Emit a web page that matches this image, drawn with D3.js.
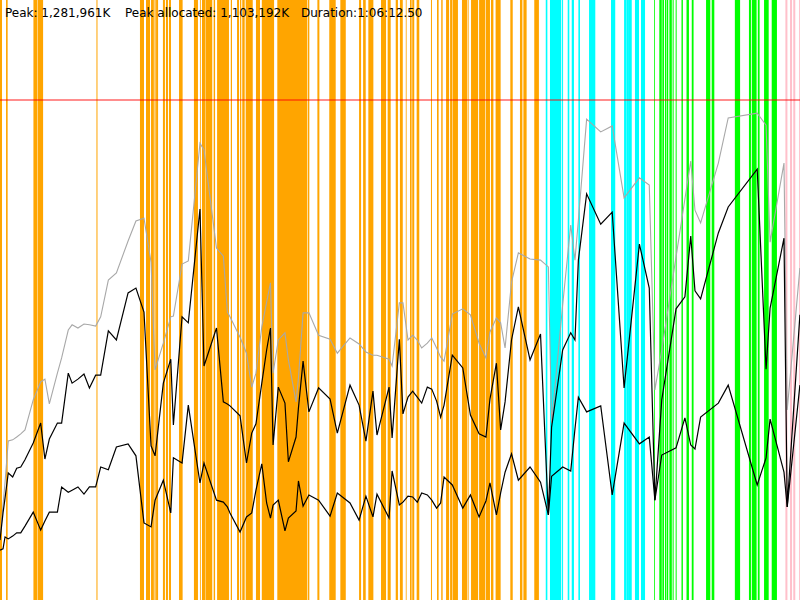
<!DOCTYPE html>
<html>
<head>
<meta charset="utf-8">
<script src="https://cdn.jsdelivr.net/npm/d3@7"></script>
<style>
  body { margin: 0; background: #fff; }
  svg { display: block; }
</style>
</head>
<body>
<svg width="800" height="600"></svg>
<script>
// summary figures (K = kilobytes, duration in seconds)
var peakK = 1281961,
    peakAllocK = 1103192,
    durationSec = 3972.5;

// sample times (s)
var times = [0, 15, 25, 41, 63, 83, 103, 124, 165, 202, 223, 245, 285, 306, 339, 358, 387, 417, 444, 475,
  500, 538, 578, 636, 675, 715, 750, 770, 811, 848, 861, 904, 935, 993, 1013, 1075, 1109, 1129, 1142, 1192,
  1224, 1250, 1271, 1300, 1324, 1343, 1356, 1382, 1415, 1432, 1470, 1482, 1505, 1534, 1582, 1639, 1675, 1738, 1783, 1817,
  1852, 1872, 1932, 1947, 1983, 2001, 2026, 2049, 2072, 2094, 2122, 2144, 2168, 2188, 2205, 2246, 2298, 2336, 2379, 2413,
  2433, 2465, 2486, 2508, 2540, 2574, 2632, 2684, 2723, 2739, 2794, 2834, 2855, 2872, 2913, 2983, 3040, 3099, 3175, 3224,
  3252, 3286, 3357, 3401, 3430, 3451, 3479, 3567, 3616, 3760, 3804, 3824, 3893, 3909, 3972];

// heap size (MB) - grey line
var heapMB = [150, 238, 295, 398, 401, 408, 416, 426, 501, 546, 553, 491, 568, 606, 676, 689, 681, 691, 689, 686,
  709, 801, 819, 899, 949, 956, 846, 576, 643, 709, 711, 841, 849, 1144, 1127, 881, 861, 721, 709, 658,
  618, 533, 568, 684, 746, 794, 568, 651, 669, 601, 496, 556, 719, 719, 663, 653, 618, 656, 641, 621,
  613, 613, 603, 586, 744, 744, 651, 663, 651, 631, 643, 656, 631, 608, 598, 716, 729, 714, 643, 606,
  671, 706, 694, 631, 796, 869, 854, 851, 834, 443, 739, 939, 851, 951, 1204, 1172, 1187, 1007, 1057, 1039,
  526, 626, 859, 1004, 1099, 976, 944, 1094, 1207, 1219, 1189, 896, 1094, 476, 831];

// allocated (MB) - upper black line
var allocMB = [150, 218, 255, 318, 308, 330, 333, 351, 393, 443, 353, 403, 443, 443, 568, 543, 553, 566, 531, 563,
  563, 674, 651, 769, 781, 721, 386, 361, 543, 603, 438, 709, 694, 979, 586, 681, 496, 491, 486, 461,
  343, 418, 441, 543, 626, 681, 388, 533, 493, 346, 408, 481, 598, 471, 531, 503, 418, 538, 488, 398,
  523, 413, 533, 406, 653, 466, 508, 523, 508, 493, 533, 528, 498, 458, 488, 613, 581, 463, 416, 408,
  503, 593, 426, 496, 651, 734, 601, 666, 213, 433, 626, 669, 651, 851, 1017, 941, 971, 531, 891, 781,
  250, 501, 729, 759, 911, 774, 754, 919, 984, 1079, 578, 731, 906, 233, 714];

// live after GC (MB) - lower black line
var liveMB = [125, 128, 158, 153, 160, 168, 168, 185, 220, 175, 198, 220, 220, 283, 270, 275, 283, 265, 283, 283,
  333, 326, 383, 391, 361, 193, 183, 250, 300, 218, 356, 343, 488, 293, 343, 250, 245, 233, 218, 170,
  208, 218, 275, 341, 243, 205, 238, 250, 173, 205, 223, 298, 235, 263, 250, 210, 268, 243, 200, 260,
  208, 265, 205, 323, 238, 245, 260, 258, 245, 268, 263, 250, 230, 243, 308, 288, 230, 263, 208, 248,
  293, 213, 268, 320, 366, 300, 333, 295, 213, 310, 333, 323, 428, 508, 471, 486, 263, 443, 391, 408,
  250, 363, 381, 456, 388, 378, 458, 493, 538, 288, 356, 453, 320, 233, 538];

// activity phases [start s, end s]
var orangeSpans = [[0, 10], [30, 38], [166, 185], [187, 214], [479, 484], [695, 715], [725, 745], [750, 764], [767, 773], [775, 785],
  [809, 819], [824, 834], [839, 849], [889, 904], [904, 907], [963, 983], [993, 997], [1003, 1018], [1020, 1054], [1061, 1068],
  [1078, 1137], [1146, 1152], [1177, 1187], [1192, 1198], [1203, 1215], [1220, 1255], [1271, 1291], [1300, 1361], [1377, 1526], [1529, 1536],
  [1576, 1586], [1635, 1667], [1690, 1717], [1783, 1793], [1803, 1816], [1829, 1854], [1892, 1917], [1925, 1940], [1965, 1976], [1986, 2000],
  [2015, 2019], [2036, 2044], [2047, 2057], [2069, 2082], [2140, 2145], [2170, 2178], [2191, 2198], [2215, 2230], [2235, 2246], [2248, 2274],
  [2294, 2319], [2322, 2327], [2339, 2374], [2379, 2410], [2413, 2433], [2438, 2450], [2461, 2486], [2534, 2546], [2582, 2594], [2599, 2615],
  [2653, 2676]];
var cyanSpans = [[2710, 2718], [2731, 2787], [2791, 2796], [2819, 2827], [2839, 2850], [2872, 2880], [2925, 2956], [3034, 3055],
  [3099, 3112], [3113, 3123], [3123, 3137], [3153, 3173], [3183, 3203]];
var greenSpans = [[3248, 3252], [3274, 3286], [3289, 3297], [3302, 3307], [3310, 3318], [3324, 3336], [3340, 3345], [3355, 3360],
  [3384, 3391], [3409, 3421], [3435, 3444], [3506, 3527], [3534, 3547], [3649, 3675], [3719, 3729], [3733, 3757], [3763, 3772],
  [3794, 3817], [3832, 3858]];
var pinkSpans = [[3900, 3910], [3923, 3933], [3939, 3949], [3968, 3973]];

var svg = d3.select("svg"),
    width = +svg.attr("width"),
    height = +svg.attr("height");

var peakMB = peakK / 1024;

var x = d3.scaleLinear().domain([0, durationSec]).range([0, width]);
var y = d3.scaleLinear().domain([0, peakMB * 1.2]).range([height, 0]);

// phase stripes
var phases = [
  {spans: orangeSpans, color: "#ffa500"},
  {spans: cyanSpans, color: "#00ffff"},
  {spans: greenSpans, color: "#00ff00"},
  {spans: pinkSpans, color: "#ffc0cb"}
];
phases.forEach(function(p) {
  svg.append("g")
    .selectAll("rect")
    .data(p.spans)
    .enter().append("rect")
    .attr("x", function(d) { return x(d[0]); })
    .attr("width", function(d) { return x(d[1]) - x(d[0]); })
    .attr("y", 0)
    .attr("height", height)
    .attr("fill", p.color);
});

// peak marker
svg.append("line")
  .attr("x1", 0).attr("x2", width)
  .attr("y1", y(peakMB)).attr("y2", y(peakMB))
  .attr("stroke", "#ff0000")
  .attr("stroke-opacity", 0.6)
  .attr("stroke-width", 1.6);

function series(vals) {
  return d3.line()
    .x(function(d, i) { return x(times[i]); })
    .y(function(d) { return y(d); })(vals);
}

svg.append("path").attr("d", series(heapMB))
  .attr("fill", "none").attr("stroke", "#a8a8a8").attr("stroke-width", 1.1);
svg.append("path").attr("d", series(allocMB))
  .attr("fill", "none").attr("stroke", "#000").attr("stroke-width", 1.2);
svg.append("path").attr("d", series(liveMB))
  .attr("fill", "none").attr("stroke", "#000").attr("stroke-width", 1.2);

// header
var fmt = d3.format(",");
function duration(s) {
  var h = Math.floor(s / 3600), m = Math.floor(s % 3600 / 60), sec = s % 60;
  return h + ":" + d3.format("02")(m) + ":" + d3.format("05.2f")(sec);
}
var header = [
  {x: 5, text: "Peak: " + fmt(peakK) + "K"},
  {x: 125, text: "Peak allocated: " + fmt(peakAllocK) + "K"},
  {x: 301, text: "Duration:" + duration(durationSec)}
];
svg.append("g")
  .attr("font-family", "DejaVu Sans, sans-serif")
  .attr("font-size", 12)
  .selectAll("text")
  .data(header)
  .enter().append("text")
  .attr("x", function(d) { return d.x; })
  .attr("y", 17)
  .attr("fill", "#000")
  .text(function(d) { return d.text; });
</script>
</body>
</html>
